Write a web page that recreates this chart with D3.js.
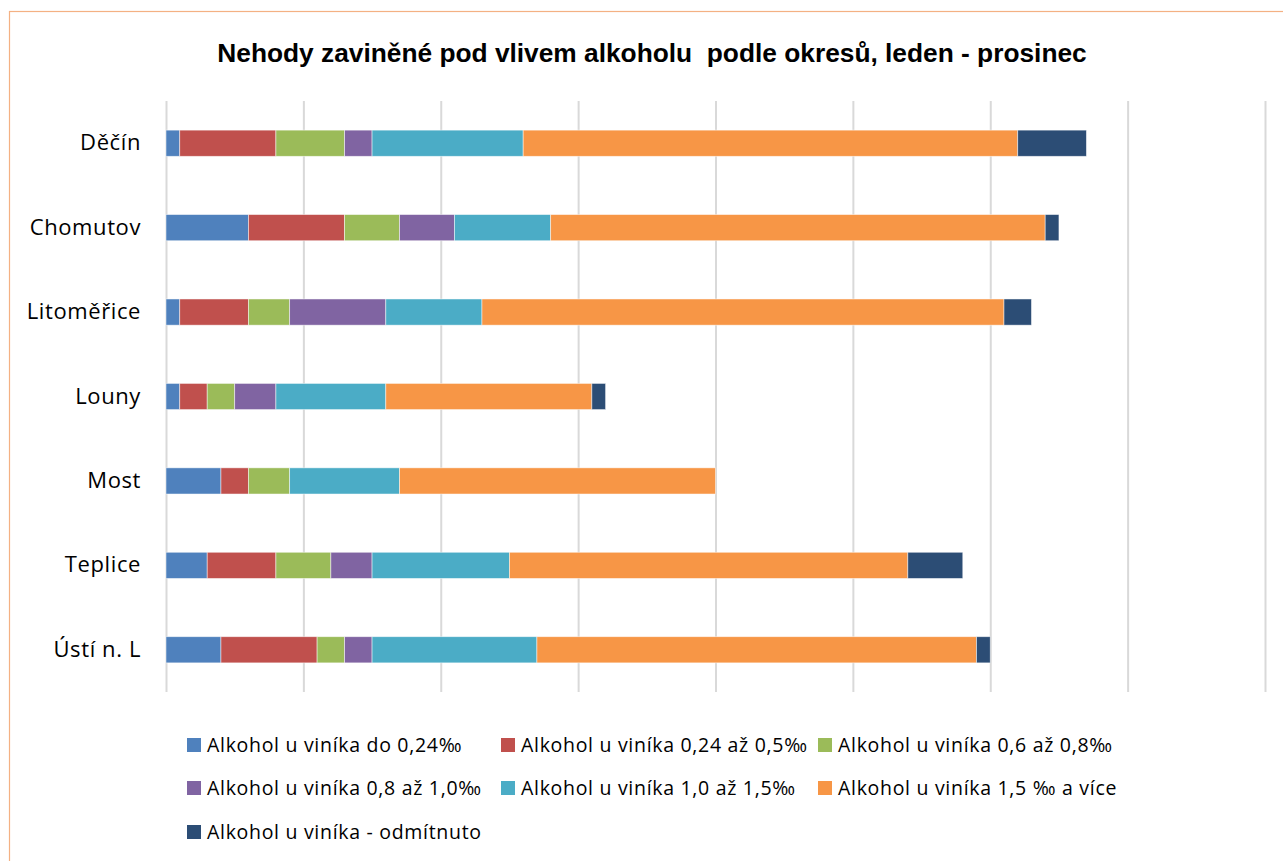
<!DOCTYPE html>
<html>
<head>
<meta charset="utf-8">
<script src="https://cdn.jsdelivr.net/npm/d3@7"></script>
<style>
  body { margin: 0; background: #fff; }
  .chart-title { font-family: "Liberation Sans", Arial, sans-serif; font-weight: bold; font-size: 26.3px; fill: #000; }
  .cat-label { font-family: "Open Sans", sans-serif; font-size: 22px; letter-spacing: 0.6px; fill: #000; }
  .legend { font-family: "Open Sans", sans-serif; font-size: 19.5px; letter-spacing: 0.7px; fill: #000; }
</style>
</head>
<body>
<div id="viz_container"></div>
<script>
// data
const districts = ["Děčín", "Chomutov", "Litoměřice", "Louny", "Most", "Teplice", "Ústí n. L"];
const seriesNames = [
    "Alkohol u viníka do 0,24‰",
    "Alkohol u viníka 0,24 až 0,5‰",
    "Alkohol u viníka 0,6 až 0,8‰",
    "Alkohol u viníka 0,8 až 1,0‰",
    "Alkohol u viníka 1,0 až 1,5‰",
    "Alkohol u viníka 1,5 ‰ a více",
    "Alkohol u viníka - odmítnuto"
];
const do024 = [1, 6, 1, 1, 4, 3, 4];
const od024do05 = [7, 7, 5, 2, 2, 5, 7];
const od06do08 = [5, 4, 3, 2, 3, 4, 2];
const od08do10 = [2, 4, 7, 3, 0, 3, 2];
const od10do15 = [11, 7, 7, 8, 8, 10, 12];
const nad15 = [36, 36, 38, 15, 23, 29, 32];
const odmitnuto = [5, 1, 2, 1, 0, 4, 1];
const seriesValues = [do024, od024do05, od06do08, od08do10, od10do15, nad15, odmitnuto];
const colors = ["#4F81BD", "#C0504D", "#9BBB59", "#8064A2", "#4BACC6", "#F79646", "#2C4D75"];

const W = 1283, H = 861;
const margin = { top: 101, right: 18, bottom: 170, left: 166 };

const svg = d3.select("#viz_container")
    .append("svg")
    .attr("width", W)
    .attr("height", H);

// outer frame
svg.append("rect")
    .attr("x", 9.5).attr("y", 11.5)
    .attr("width", W + 20).attr("height", H + 20)
    .attr("fill", "none")
    .attr("stroke", "#F4B183")
    .attr("stroke-width", 1.2);

const g = svg.append("g")
    .attr("transform", `translate(${margin.left}, ${margin.top})`);

// build rows for stacking
const rows = districts.map((d, i) => {
    const row = { district: d };
    seriesNames.forEach((s, j) => { row[s] = seriesValues[j][i]; });
    return row;
});
const stacked = d3.stack().keys(seriesNames)(rows);

// scales
const xScale = d3.scaleLinear().domain([0, 80]).range([0, 1099]);
const yScale = d3.scaleBand().domain(districts).range([0, 591]).paddingInner(0.69).paddingOuter(0.345);
const color = d3.scaleOrdinal().domain(seriesNames).range(colors);

// vertical grid lines
g.append("g")
    .attr("class", "grid")
    .call(d3.axisBottom(xScale).tickValues(d3.range(0, 81, 10)).tickSize(591).tickFormat(""))
    .call(a => a.select(".domain").remove())
    .call(a => a.selectAll("line").attr("stroke", "#D9D9D9").attr("stroke-width", 2));

// bars
g.append("g")
    .selectAll("g")
    .data(stacked)
    .join("g")
    .attr("fill", d => color(d.key))
    .selectAll("rect")
    .data(d => d)
    .join("rect")
    .attr("x", d => xScale(d[0]))
    .attr("y", d => yScale(d.data.district))
    .attr("width", d => xScale(d[1]) - xScale(d[0]))
    .attr("height", yScale.bandwidth())
    .attr("stroke", "#fff")
    .attr("stroke-opacity", 0.6)
    .attr("stroke-width", 0.8);

// category labels
g.append("g")
    .call(d3.axisLeft(yScale).tickSize(0).tickPadding(25))
    .call(a => a.select(".domain").remove())
    .call(a => a.selectAll("text").attr("class", "cat-label").attr("font-family", null).attr("font-size", null).attr("fill", null));

// title
svg.append("text")
    .attr("class", "chart-title")
    .attr("x", 652)
    .attr("y", 62)
    .attr("text-anchor", "middle")
    .style("white-space", "pre")
    .text("Nehody zaviněné pod vlivem alkoholu  podle okresů, leden - prosinec");

// legend
const legendCols = [187, 501, 818];
const legendRows = [745, 788, 832];
const legend = svg.append("g")
    .selectAll("g")
    .data(seriesNames)
    .join("g")
    .attr("transform", (d, i) => `translate(${legendCols[i % 3]}, ${legendRows[Math.floor(i / 3)]})`);
legend.append("rect")
    .attr("x", 0).attr("y", -7)
    .attr("width", 14).attr("height", 14)
    .attr("fill", d => color(d));
legend.append("text")
    .attr("class", "legend")
    .attr("x", 20)
    .attr("y", 7)
    .text(d => d);
</script>
</body>
</html>
